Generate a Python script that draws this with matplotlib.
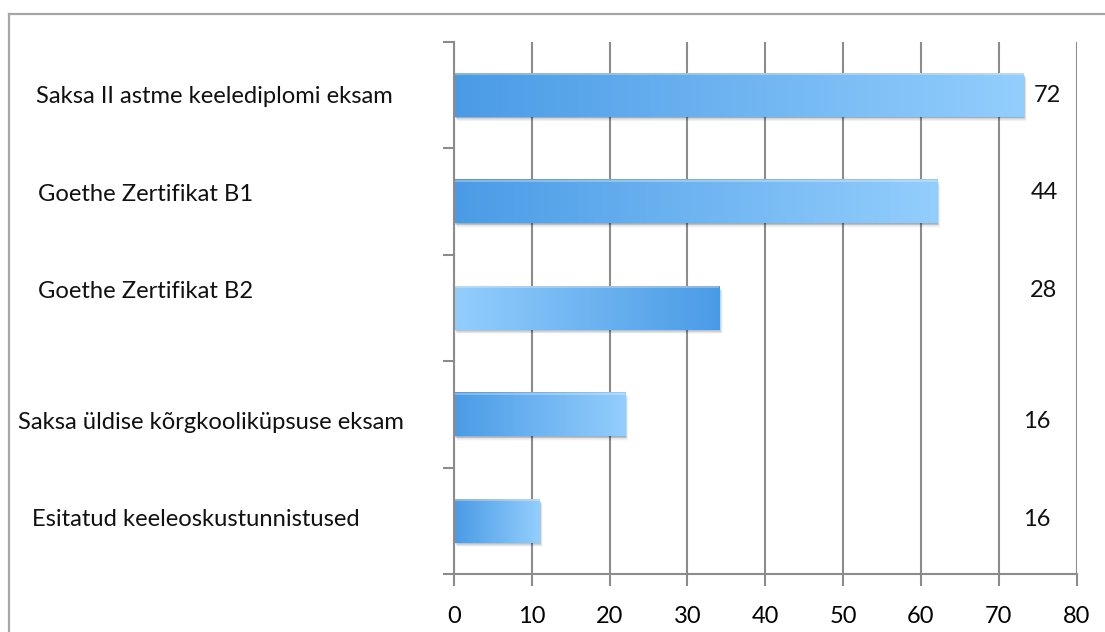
import numpy as np
import matplotlib
matplotlib.use("Agg")
import matplotlib.pyplot as plt
from matplotlib import transforms
from matplotlib.colors import LinearSegmentedColormap
from matplotlib.lines import Line2D

# ---------------- data ----------------
categories = [
    "Saksa II astme keelediplomi eksam",
    "Goethe Zertifikat B1",
    "Goethe Zertifikat B2",
    "Saksa üldise kõrgkooliküpsuse eksam",
    "Esitatud keeleoskustunnistused",
]
bar_values = [73.2, 62.1, 34.1, 22.0, 11.0]
side_labels = ["72", "44", "28", "16", "16"]
gradient_reversed = [False, False, True, False, False]
x_ticks = [0, 10, 20, 30, 40, 50, 60, 70, 80]

# ---------------- layout ----------------
W, H = 1105, 632
DPI = 100
FONT = "Lato"
plt.rcParams["font.family"] = [FONT, "DejaVu Sans"]

fig = plt.figure(figsize=(W / DPI, H / DPI), dpi=DPI)
fig.patch.set_facecolor("white")

def fx(px):
    return px / W

def fy(py):
    return 1 - py / H

ax_left, ax_right, ax_top, ax_bot = 454, 1076.5, 42, 574.3
ax = fig.add_axes([fx(ax_left), fy(ax_bot), fx(ax_right - ax_left), (ax_bot - ax_top) / H])
ax.set_facecolor("none")

grid_col = "#8c8c8c"
n = len(categories)
ys = np.arange(n)
bar_h = 0.405

ax.set_xlim(0, 80)
ax.set_ylim(n - 0.5, -0.5)

dark = np.array([0x4A, 0x9B, 0xE6]) / 255
light = np.array([0x93, 0xCE, 0xFD]) / 255
cmap = LinearSegmentedColormap.from_list("g", [dark, light])
cmap_r = LinearSegmentedColormap.from_list("gr", [light, dark])

grad = np.linspace(0, 1, 256).reshape(1, -1)

for i, (v, rev) in enumerate(zip(bar_values, gradient_reversed)):
    y0 = ys[i] - bar_h / 2
    for k, a in zip(range(1, 7), [0.10, 0.09, 0.07, 0.05, 0.035, 0.02]):
        off = transforms.offset_copy(ax.transData, fig=fig, x=k * 0.55, y=-k * 0.75, units="dots")
        r = plt.Rectangle((0, y0), v, bar_h, transform=off, facecolor="#000000",
                          alpha=a, edgecolor="none", zorder=2)
        ax.add_patch(r)
    ax.add_patch(plt.Rectangle((0, y0), v, bar_h, facecolor="white", edgecolor="none", zorder=2.5))
    ax.imshow(grad, extent=[0, v, ys[i] + bar_h / 2, y0], aspect="auto",
              cmap=cmap_r if rev else cmap, zorder=3, interpolation="bicubic")
    ax.plot([0, v], [y0 + 0.006, y0 + 0.006], color="white", alpha=0.35, lw=1.2, zorder=3.5,
            solid_capstyle="butt")

ax.set_xlim(0, 80)
ax.set_ylim(n - 0.5, -0.5)

ax.set_xticks(x_ticks)
ax.set_xticklabels([str(t) for t in x_ticks], fontsize=17, family=[FONT, "DejaVu Sans"])
ax.xaxis.grid(True, color=grid_col, lw=1.5, zorder=1)
ax.set_axisbelow(True)
ax.set_yticks(np.arange(-0.5, n, 1.0))
ax.set_yticklabels([])
ax.tick_params(axis="x", direction="out", length=8.5, width=1.5, color=grid_col, pad=14.5)
ax.tick_params(axis="y", direction="out", length=8, width=1.5, color=grid_col)
for s in ["top", "right"]:
    ax.spines[s].set_visible(False)
for s in ["left", "bottom"]:
    ax.spines[s].set_color(grid_col)
    ax.spines[s].set_linewidth(1.5)
    ax.spines[s].set_zorder(4)

# category texts (left) -- one common size fitted on the reference text widths
cat_pos = [(36, 103), (38, 201), (38, 298), (18, 429), (32, 526)]
cat_widths = [382, 212, 212, 397, 308]
fig.canvas.draw()
renderer = fig.canvas.get_renderer()
ratios = []
for txt, tw in zip(categories, cat_widths):
    probe = fig.text(0, 0, txt, fontsize=18)
    ratios.append(tw / probe.get_window_extent(renderer).width)
    probe.remove()
cat_size = 18 * float(np.mean(ratios))
for txt, (lx, by) in zip(categories, cat_pos):
    fig.text(fx(lx), fy(by), txt, ha="left", va="baseline", fontsize=cat_size, color="#111111")

# side labels (right)
num_pos = [(1061, 102), (1058, 199), (1057, 297), (1051, 428), (1051, 526)]
for txt, (rx, by) in zip(side_labels, num_pos):
    fig.text(fx(rx), fy(by), txt, ha="right", va="baseline", fontsize=17, color="#111111")

# outer border
bc = "#a6a6a6"
fig.add_artist(Line2D([fx(8.5), fx(8.5)], [fy(14), fy(H + 5)], color=bc, lw=1.6,
                      transform=fig.transFigure))
fig.add_artist(Line2D([fx(8.5), fx(W + 5)], [fy(14), fy(14)], color=bc, lw=1.6,
                      transform=fig.transFigure))

fig.savefig("out.png", dpi=DPI, facecolor="white")
